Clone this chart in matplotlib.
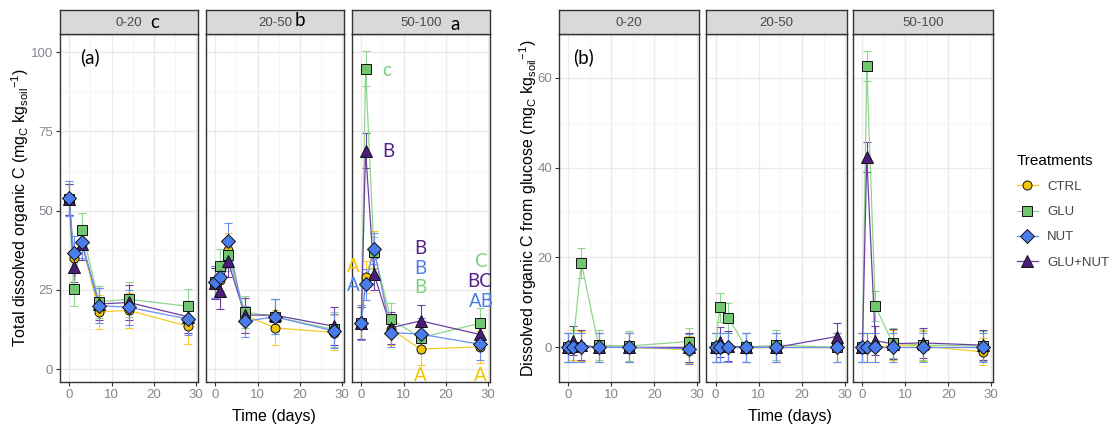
import numpy as np
import matplotlib.pyplot as plt
from matplotlib.lines import Line2D

plt.rcParams['font.family'] = ['Liberation Sans', 'DejaVu Sans']
plt.rcParams['mathtext.default'] = 'regular'

W, H = 1115, 433

days = [0, 1, 3, 7, 14, 28]
depths = ['0-20', '20-50', '50-100']
depth_letters = ['c', 'b', 'a']
treatments = ['CTRL', 'GLU', 'NUT', 'GLU+NUT']

# total dissolved organic C, one row per depth
total_ctrl = [[53.5, 35.0, 40.0, 18.0, 18.5, 13.5],
              [27.0, 28.0, 37.5, 17.0, 13.0, 11.5],
              [14.6, 29.0, 37.5, 12.5, 6.3, 7.0]]
total_glu = [[53.5, 25.3, 43.8, 21.2, 22.0, 19.8],
             [27.5, 32.5, 36.0, 18.0, 16.5, 12.5],
             [14.6, 94.8, 36.8, 15.7, 9.9, 14.4]]
total_nut = [[53.8, 36.5, 40.0, 20.0, 19.5, 15.8],
             [27.5, 29.0, 40.5, 15.0, 16.5, 12.0],
             [14.6, 26.7, 38.0, 11.5, 11.0, 7.8]]
total_glunut = [[53.5, 32.3, 39.5, 20.5, 21.0, 16.5],
                [27.0, 24.5, 34.0, 17.0, 17.0, 13.5],
                [14.6, 68.9, 30.0, 13.0, 15.2, 10.9]]
total_err_ctrl = [[5, 4.5, 5.5, 5.5, 5.5, 5.5], [5, 5, 5.5, 5.5, 5.5, 5.5], [5, 5, 6, 5, 5, 5]]
total_err_glu = [[5, 5.5, 5.5, 5, 5.5, 5.5], [5, 5.5, 5, 5, 5.5, 5.5], [5, 5.5, 5, 5, 5, 5]]
total_err_nut = [[5.5, 5.5, 5, 5.5, 5.5, 5], [5, 4.5, 5.5, 5, 5.5, 5.5], [5.5, 5, 5, 4.5, 5, 5]]
total_err_glunut = [[5, 5, 5, 5, 5.5, 5], [5, 5.5, 5, 5.5, 5, 6], [5, 5.5, 5, 5, 5, 5]]

# dissolved organic C from glucose
gluc_ctrl = [[0.0, 0.5, 0.3, 0.0, 0.0, -0.5],
             [0.0, 0.0, 0.0, 0.0, 0.0, 0.0],
             [0.0, 0.0, 0.0, 0.5, 0.3, -1.0]]
gluc_glu = [[0.0, 0.0, 18.8, 0.5, 0.3, 1.3],
            [0.0, 8.9, 6.6, 0.0, 0.5, 0.0],
            [0.0, 62.6, 9.2, 1.0, 0.5, 0.3]]
gluc_nut = [[0.0, 0.0, 0.0, 0.0, 0.0, -0.3],
            [0.0, 0.0, 0.0, 0.0, 0.0, 0.0],
            [0.0, 0.0, 0.0, 0.0, 0.0, 0.0]]
gluc_glunut = [[0.0, 1.5, 0.5, 0.0, 0.0, 0.0],
               [0.0, 1.2, 0.3, 0.0, 0.0, 2.4],
               [0.0, 42.3, 1.5, 0.8, 1.0, 0.5]]
gluc_err_ctrl = [[3.3, 3.3, 3.3, 3.3, 3.3, 3.0], [3.3, 3.3, 3.3, 3.3, 3.3, 3.3], [3.3, 3.3, 3.3, 3.3, 3.3, 3.0]]
gluc_err_glu = [[3.3, 3.3, 3.3, 3.3, 3.3, 3.0], [3.3, 3.3, 3.3, 3.3, 3.3, 3.3], [3.3, 3.3, 3.3, 3.3, 3.3, 3.3]]
gluc_err_nut = [[3.3, 3.3, 3.3, 3.3, 3.3, 3.3], [3.3, 3.3, 3.3, 3.3, 3.3, 3.3], [3.3, 3.3, 3.3, 3.3, 3.3, 3.3]]
gluc_err_glunut = [[3.3, 3.3, 3.3, 3.3, 3.3, 3.3], [3.3, 3.3, 3.3, 3.3, 3.3, 3.0], [3.3, 3.3, 3.3, 3.3, 3.3, 3.3]]

fills = {'CTRL': '#F2C40C', 'GLU': '#72C672', 'NUT': '#4A7DEB', 'GLU+NUT': '#4A1C7C'}
lines = {'CTRL': '#F5CB2A', 'GLU': '#8ED68E', 'NUT': '#6B8FF0', 'GLU+NUT': '#6E3FA3'}
markers = {'CTRL': ('o', 6.5), 'GLU': ('s', 7.5), 'NUT': ('D', 6.8), 'GLU+NUT': ('^', 8)}
draw_order = ['CTRL', 'GLU', 'GLU+NUT', 'NUT']

fig = plt.figure(figsize=(W / 100, H / 100), dpi=100)


def add_px_axes(x0, x1, y0, y1):
    return fig.add_axes([x0 / W, 1 - y1 / H, (x1 - x0) / W, (y1 - y0) / H])


def panel(x0, x1, series, errors, d, ylim, yticks, yminor, show_y):
    ax = add_px_axes(x0, x1, 34, 382)
    ax.set_xlim(-2.2, 30.4)
    ax.set_ylim(*ylim)
    ax.set_xticks([0, 10, 20, 30])
    ax.set_xticks([5, 15, 25], minor=True)
    ax.set_yticks(yticks)
    ax.set_yticks(yminor, minor=True)
    ax.grid(which='major', color='#EBEBEB', lw=1.0, zorder=0)
    ax.grid(which='minor', color='#F4F4F4', lw=0.6, zorder=0)
    ax.set_axisbelow(True)
    for s in ax.spines.values():
        s.set_color('#333333')
        s.set_linewidth(1.0)
    ax.tick_params(which='major', direction='out', length=3, width=0.8, color='#333333',
                   labelsize=9.5, labelcolor='#8a8290', pad=2)
    ax.tick_params(which='minor', length=0)
    if not show_y:
        ax.tick_params(axis='y', labelleft=False, length=0)
    for t in draw_order:
        ax.errorbar(days, series[t][d], yerr=errors[t][d], fmt='none', ecolor=lines[t],
                    elinewidth=0.8, capsize=3, capthick=0.8, zorder=2)
    for t in draw_order:
        ax.plot(days, series[t][d], color=lines[t], lw=0.9, zorder=3)
    for t in draw_order:
        m, ms = markers[t]
        ax.plot(days, series[t][d], ls='none', marker=m, ms=ms, mfc=fills[t], mec='#111111',
                mew=0.7, zorder=4)
    # strip
    st = add_px_axes(x0, x1, 10, 34)
    st.set_facecolor('#D9D9D9')
    st.set_xticks([])
    st.set_yticks([])
    for s in st.spines.values():
        s.set_color('#333333')
        s.set_linewidth(1.0)
    st.text(0.5, 0.45, depths[d], ha='center', va='center', fontsize=9.5, color='#4a4a4a',
            transform=st.transAxes)
    return ax


total = {'CTRL': total_ctrl, 'GLU': total_glu, 'NUT': total_nut, 'GLU+NUT': total_glunut}
total_err = {'CTRL': total_err_ctrl, 'GLU': total_err_glu, 'NUT': total_err_nut, 'GLU+NUT': total_err_glunut}
gluc = {'CTRL': gluc_ctrl, 'GLU': gluc_glu, 'NUT': gluc_nut, 'GLU+NUT': gluc_glunut}
gluc_err = {'CTRL': gluc_err_ctrl, 'GLU': gluc_err_glu, 'NUT': gluc_err_nut, 'GLU+NUT': gluc_err_glunut}

left_x = [(60, 198), (206, 344), (352, 490)]
right_x = [(559, 699), (706, 847), (853, 993)]

left_axes = []
for d, (x0, x1) in enumerate(left_x):
    left_axes.append(panel(x0, x1, total, total_err, d, (-4.1, 105.7),
                           [0, 25, 50, 75, 100], [12.5, 37.5, 62.5, 87.5], d == 0))
right_axes = []
for d, (x0, x1) in enumerate(right_x):
    right_axes.append(panel(x0, x1, gluc, gluc_err, d, (-7.7, 69.7),
                            [0, 20, 40, 60], [10, 30, 50], d == 0))

ann = dict(family=['Lato', 'DejaVu Sans'], fontsize=13.5)


def ftext(px, py, s, **kw):
    fig.text(px / W, 1 - py / H, s, ha='center', va='center', **kw)


# labels on strips
for (x, y, s) in [(155, 22, 'c'), (300, 20, 'b'), (455, 24, 'a')]:
    ftext(x, y, s, color='black', **ann)

ftext(90, 57, '(a)', color='black', **ann)
ftext(584, 57, '(b)', color='black', **ann)

# letters in the 50-100 panel
ax3 = left_axes[2]
letters = [(4.9, 94.3, 'c', 'GLU', 'left'), (4.9, 68.5, 'B', 'GLU+NUT', 'left'),
           (-3.4, 32.2, 'A', 'CTRL', 'left'), (-3.4, 26.5, 'A', 'NUT', 'left'),
           (14.0, 38.0, 'B', 'GLU+NUT', 'center'), (14.0, 31.8, 'B', 'NUT', 'center'),
           (14.0, 25.8, 'B', 'GLU', 'center'), (14.0, -2.1, 'A', 'CTRL', 'center'),
           (28.1, 33.8, 'C', 'GLU', 'center'), (27.9, 27.5, 'BC', 'GLU+NUT', 'center'),
           (28.3, 21.2, 'AB', 'NUT', 'center'), (28.0, -2.1, 'A', 'CTRL', 'center')]
letter_col = {'CTRL': '#F5C400', 'GLU': '#7ED07E', 'NUT': '#4A7DEB', 'GLU+NUT': '#4F1F86'}
for x, y, s, t, ha in letters:
    ax3.text(x, y, s, color=letter_col[t], ha=ha, va='center', clip_on=False, **ann)

ylab_total = 'Total dissolved organic C (mg$_{C}$ kg$_{soil}$$^{-1}$)'
ylab_gluc = 'Dissolved organic C from glucose (mg$_{C}$ kg$_{soil}$$^{-1}$)'
fig.text(20 / W, 1 - 208 / H, ylab_total, rotation=90, ha='center', va='center', fontsize=11.5)
fig.text(528 / W, 1 - 208 / H, ylab_gluc, rotation=90, ha='center', va='center', fontsize=11.5)
ftext(274, 416, 'Time (days)', fontsize=11.5)
ftext(790, 416, 'Time (days)', fontsize=11.5)

handles = []
for t in treatments:
    m, ms = markers[t]
    handles.append(Line2D([0], [0], color=lines[t], lw=0.9, marker=m, ms=ms, mfc=fills[t],
                          mec='#111111', mew=0.7))
leg = fig.legend(handles, treatments, title='Treatments', loc='upper left',
                 bbox_to_anchor=(1005 / W, 1 - 142 / H), frameon=False, fontsize=9.5,
                 title_fontsize=11, handlelength=1.6, labelspacing=0.98, handletextpad=0.7)
leg._legend_box.align = 'left'
for txt in leg.get_texts():
    txt.set_color('#444444')

fig.savefig('out.png', dpi=100)
